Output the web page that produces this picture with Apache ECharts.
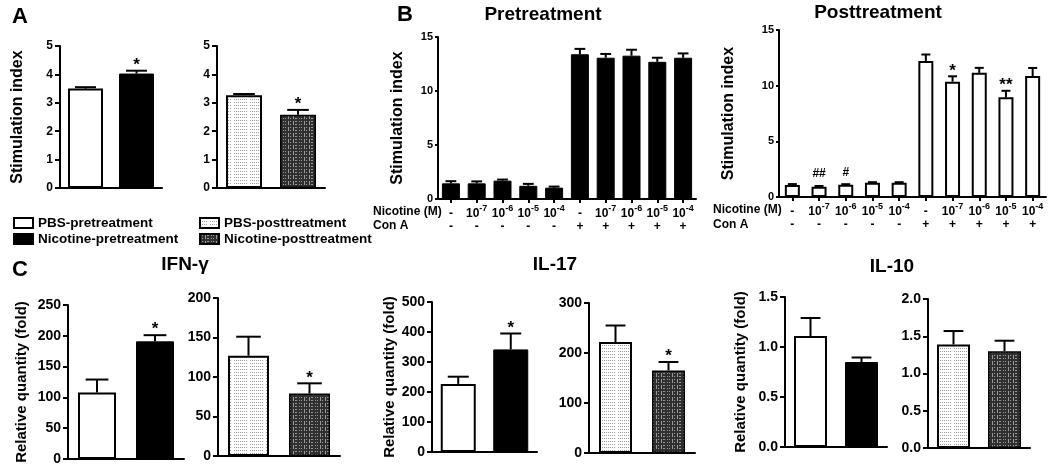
<!DOCTYPE html>
<html><head><meta charset="utf-8">
<script src="https://cdn.jsdelivr.net/npm/echarts@6/dist/echarts.min.js"></script>
<style>html,body{margin:0;padding:0;background:#fff}#c{width:1050px;height:471px}</style>
</head><body><div id="c"></div>
<script>
const FONT = '"Liberation Sans", Arial, Helvetica, sans-serif';

// ---------------- data ----------------
const pairCategories = ['PBS', 'Nicotine'];
const legendPre = ['PBS-pretreatment', 'Nicotine-pretreatment'];
const legendPost = ['PBS-posttreatment', 'Nicotine-posttreatment'];

// Panel A: stimulation index
const aPreValues = [3.50, 4.03];
const aPreErrors = [0.05, 0.10];
const aPreMarks = ['', '*'];
const aPostValues = [3.27, 2.58];
const aPostErrors = [0.04, 0.17];
const aPostMarks = ['', '*'];

// Panel B: dose series
const nicotineExponents = ['', '-7', '-6', '-5', '-4', '', '-7', '-6', '-5', '-4'];
const conALabels = ['-', '-', '-', '-', '-', '+', '+', '+', '+', '+'];
const bPreValues = [1.45, 1.45, 1.70, 1.22, 1.05, 13.40, 13.08, 13.27, 12.70, 13.08];
const bPreErrors = [0.20, 0.18, 0.10, 0.18, 0.10, 0.50, 0.35, 0.55, 0.38, 0.40];
const bPreMarks = ['', '', '', '', '', '', '', '', '', ''];
const bPostValues = [1.08, 0.93, 1.10, 1.27, 1.27, 12.22, 10.36, 11.15, 8.96, 10.87];
const bPostErrors = [0.08, 0.06, 0.05, 0.06, 0.06, 0.58, 0.48, 0.45, 0.58, 0.72];
const bPostMarks = ['', '##', '#', '', '', '', '*', '', '**', ''];

// Panel C: relative quantity (fold)
const ifnPreValues = [108, 191];
const ifnPreErrors = [21, 10];
const ifnPreMarks = ['', '*'];
const ifnPostValues = [127, 79];
const ifnPostErrors = [24, 13];
const ifnPostMarks = ['', '*'];
const il17PreValues = [227, 342];
const il17PreErrors = [24, 53];
const il17PreMarks = ['', '*'];
const il17PostValues = [222, 165];
const il17PostErrors = [33, 17];
const il17PostMarks = ['', '*'];
const il10PreValues = [1.11, 0.85];
const il10PreErrors = [0.18, 0.045];
const il10PreMarks = ['', ''];
const il10PostValues = [1.39, 1.30];
const il10PostErrors = [0.18, 0.14];
const il10PostMarks = ['', ''];

// ---------------- patterns ----------------
function makePattern(bg, dot, w, h, pts) {
  const c = document.createElement('canvas');
  c.width = w; c.height = h;
  const ctx = c.getContext('2d');
  ctx.fillStyle = bg; ctx.fillRect(0, 0, w, h);
  ctx.fillStyle = dot;
  pts.forEach(p => ctx.fillRect(p[0], p[1], 1, 1));
  return c;
}
const lightPts = [];
[0, 3].forEach(y => [0, 2, 4, 6, 10, 12, 14].forEach(x => lightPts.push([x, y])));
const darkPts = [];
[1, 4].forEach(y => [0, 2, 5, 7, 8, 11, 13].forEach(x => darkPts.push([x, y])));
[0, 5].forEach(x => [2, 3].forEach(y => darkPts.push([x, y])));
const lightPattern = { image: makePattern('#ffffff', '#9c9c9c', 16, 6, lightPts), repeat: 'repeat' };
const darkPattern = { image: makePattern('#2f2f2f', '#9a9a9a', 16, 6, darkPts), repeat: 'repeat' };

const S_WHITE = { color: '#ffffff', borderColor: '#000', borderWidth: 2 };
const S_BLACK = { color: '#000000', borderColor: '#000', borderWidth: 1 };
const S_LIGHT = { color: lightPattern, borderColor: '#000', borderWidth: 2 };
const S_DARK = { color: darkPattern, borderColor: '#000', borderWidth: 1.5 };

// ---------------- build ----------------
const grids = [], xAxes = [], yAxes = [], series = [];
const nameStyle = (size) => ({ fontSize: size, fontWeight: 'bold', color: '#000', fontFamily: FONT });

const bLabel = {
  show: true, interval: 0, margin: 5, hideOverlap: false,
  formatter: (v, i) => {
    const e = nicotineExponents[i];
    const top = e ? '{n|10}{s|' + e + '}' : '{n|-}';
    return top + '\n{m|' + conALabels[i] + '}';
  },
  rich: {
    n: { fontSize: 12, fontWeight: 'bold', fontFamily: FONT, color: '#000', lineHeight: 16, verticalAlign: 'bottom' },
    s: { fontSize: 9, fontWeight: 'bold', fontFamily: FONT, color: '#000', lineHeight: 9, verticalAlign: 'top' },
    m: { fontSize: 12, fontWeight: 'bold', fontFamily: FONT, color: '#000', lineHeight: 14 }
  }
};

function addPanel(p) {
  const k = grids.length;
  grids.push({ left: p.left, top: p.top, width: p.width, height: p.height });
  xAxes.push({
    type: 'category', gridIndex: k, data: p.categories,
    axisLine: { lineStyle: { color: '#000', width: 2 } },
    axisTick: p.xTicks ? { show: true, alignWithLabel: true, length: 4, lineStyle: { color: '#000', width: 2 } } : { show: false },
    axisLabel: p.xTicks ? bLabel : { show: false }
  });
  const yLabel = { color: '#000', fontWeight: 'bold', fontSize: p.labelSize, fontFamily: FONT, margin: p.labelMargin };
  if (p.decimals) yLabel.formatter = v => v.toFixed(p.decimals);
  yAxes.push({
    type: 'value', gridIndex: k, min: 0, max: p.max, interval: p.interval,
    splitLine: { show: false },
    axisLine: { show: true, lineStyle: { color: '#000', width: 2 } },
    axisTick: { show: true, length: p.tickLen, lineStyle: { color: '#000', width: 2 } },
    axisLabel: yLabel,
    name: p.yName || '', nameLocation: 'middle', nameRotate: 90, nameGap: p.nameGap || 0,
    nameTextStyle: nameStyle(p.nameSize || 16)
  });
  p.groups.forEach(g => series.push({
    type: 'bar', name: g.name, xAxisIndex: k, yAxisIndex: k,
    barWidth: p.barWidth, barGap: '-100%', animation: false,
    data: p.values.map((v, i) => (g.idx.indexOf(i) >= 0 ? v : '-')),
    itemStyle: g.style
  }));
  const marks = p.marks, capW = p.barWidth * 0.6;
  series.push({
    type: 'custom', xAxisIndex: k, yAxisIndex: k, z: 5, clip: false, animation: false, silent: true,
    data: p.values.map((v, i) => [i, v, p.errors[i]]),
    renderItem: (params, api) => {
      const i = api.value(0), v = api.value(1), e = api.value(2);
      const b = api.coord([i, v]), t = api.coord([i, v + e]);
      const ch = [
        { type: 'line', shape: { x1: b[0], y1: b[1], x2: t[0], y2: t[1] }, style: { stroke: '#000', lineWidth: 2 } },
        { type: 'line', shape: { x1: t[0] - capW / 2, y1: t[1], x2: t[0] + capW / 2, y2: t[1] }, style: { stroke: '#000', lineWidth: 2 } }
      ];
      const m = marks[params.dataIndex];
      if (m) {
        const hash = m.indexOf('#') >= 0;
        ch.push({ type: 'text', style: {
          text: m, x: t[0], y: hash ? t[1] - 6 : t[1] + 3, align: 'center', verticalAlign: 'bottom',
          font: hash ? 'bold 12px ' + FONT : 'bold 17px ' + FONT, fill: '#000' } });
      }
      return { type: 'group', children: ch };
    }
  });
}

const preGroups = [{ name: legendPre[0], idx: [0], style: S_WHITE }, { name: legendPre[1], idx: [1], style: S_BLACK }];
const postGroups = [{ name: legendPost[0], idx: [0], style: S_LIGHT }, { name: legendPost[1], idx: [1], style: S_DARK }];
const doseCats = nicotineExponents.map((e, i) => i);

addPanel({ left: 60, top: 46, width: 102, height: 142, categories: pairCategories, values: aPreValues, errors: aPreErrors, marks: aPreMarks, groups: preGroups, max: 5, interval: 1, barWidth: 35, labelSize: 12, tickLen: 5, labelMargin: 7, yName: 'Stimulation index', nameGap: 34 });
addPanel({ left: 217, top: 46, width: 108, height: 142, categories: pairCategories, values: aPostValues, errors: aPostErrors, marks: aPostMarks, groups: postGroups, max: 5, interval: 1, barWidth: 36, labelSize: 12, tickLen: 5, labelMargin: 7 });
addPanel({ left: 438, top: 37, width: 258, height: 162, categories: doseCats, values: bPreValues, errors: bPreErrors, marks: bPreMarks, groups: [{ name: 'Pretreatment', idx: doseCats, style: S_BLACK }], max: 15, interval: 5, barWidth: 18, labelSize: 11, tickLen: 3, labelMargin: 5, yName: 'Stimulation index', nameGap: 32, xTicks: true });
addPanel({ left: 779, top: 30, width: 267, height: 167, categories: doseCats, values: bPostValues, errors: bPostErrors, marks: bPostMarks, groups: [{ name: 'Posttreatment', idx: doseCats, style: S_WHITE }], max: 15, interval: 5, barWidth: 15, labelSize: 11, tickLen: 3, labelMargin: 5, yName: 'Stimulation index', nameGap: 42, xTicks: true });
addPanel({ left: 68, top: 305, width: 116, height: 154, categories: pairCategories, values: ifnPreValues, errors: ifnPreErrors, marks: ifnPreMarks, groups: preGroups, max: 250, interval: 50, barWidth: 38, labelSize: 14, tickLen: 5, labelMargin: 7, yName: 'Relative quantity (fold)', nameGap: 39, nameSize: 15 });
addPanel({ left: 218, top: 298, width: 122, height: 158, categories: pairCategories, values: ifnPostValues, errors: ifnPostErrors, marks: ifnPostMarks, groups: postGroups, max: 200, interval: 50, barWidth: 41, labelSize: 14, tickLen: 5, labelMargin: 7 });
addPanel({ left: 432, top: 302, width: 105, height: 150, categories: pairCategories, values: il17PreValues, errors: il17PreErrors, marks: il17PreMarks, groups: preGroups, max: 500, interval: 100, barWidth: 35, labelSize: 14, tickLen: 5, labelMargin: 7, yName: 'Relative quantity (fold)', nameGap: 31, nameSize: 15 });
addPanel({ left: 589, top: 303, width: 106, height: 150, categories: pairCategories, values: il17PostValues, errors: il17PostErrors, marks: il17PostMarks, groups: postGroups, max: 300, interval: 100, barWidth: 33, labelSize: 14, tickLen: 5, labelMargin: 7 });
addPanel({ left: 785, top: 297, width: 102, height: 150, categories: pairCategories, values: il10PreValues, errors: il10PreErrors, marks: il10PreMarks, groups: preGroups, max: 1.5, interval: 0.5, barWidth: 33, labelSize: 14, tickLen: 5, labelMargin: 7, decimals: 1, yName: 'Relative quantity (fold)', nameGap: 37, nameSize: 15 });
addPanel({ left: 928, top: 299, width: 102, height: 149, categories: pairCategories, values: il10PostValues, errors: il10PostErrors, marks: il10PostMarks, groups: postGroups, max: 2.0, interval: 0.5, barWidth: 33, labelSize: 14, tickLen: 5, labelMargin: 7, decimals: 1 });

function txt(text, x, y, size, align) {
  return { type: 'text', x: x, y: y, silent: true, style: { text: text, align: align || 'center', verticalAlign: 'middle', font: 'bold ' + size + 'px ' + FONT, fill: '#000' } };
}
const graphics = [
  txt('A', 20, 17, 22), txt('B', 405, 15, 22), txt('C', 20, 270, 22),
  txt('Pretreatment', 543, 15, 19), txt('Posttreatment', 878, 13, 19),
  txt('IFN-γ', 185, 265, 19), txt('IL-17', 555, 265, 19), txt('IL-10', 892, 267, 19),
  txt('Nicotine (M)', 373, 212, 12, 'left'), txt('Con A', 373, 226, 12, 'left'),
  txt('Nicotine (M)', 713, 210, 12, 'left'), txt('Con A', 713, 225, 12, 'left')
];

const legendBase = {
  orient: 'vertical', icon: 'rect', itemWidth: 19, itemHeight: 10, itemGap: 2, padding: 0,
  selectedMode: false, textStyle: { fontSize: 13.5, fontWeight: 'bold', color: '#000', fontFamily: FONT, padding: [0, 0, 0, 0] }
};

const chart = echarts.init(document.getElementById('c'), null, { renderer: 'canvas' });
chart.setOption({
  backgroundColor: '#ffffff',
  animation: false,
  grid: grids, xAxis: xAxes, yAxis: yAxes, series: series,
  legend: [
    Object.assign({}, legendBase, { data: legendPre, left: 13, top: 216 }),
    Object.assign({}, legendBase, { data: legendPost, left: 199, top: 216 })
  ],
  graphic: graphics
});
</script></body></html>
